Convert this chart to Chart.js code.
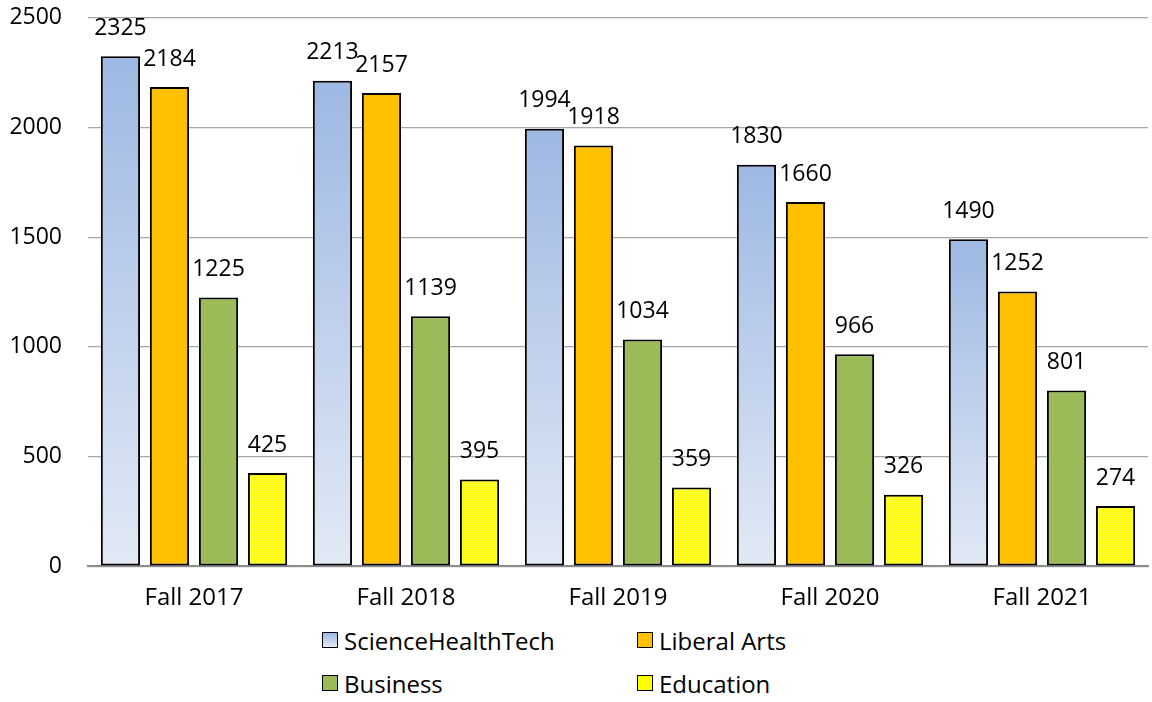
<!DOCTYPE html>
<html>
<head>
<meta charset="utf-8">
<script src="https://cdn.jsdelivr.net/npm/chart.js@4"></script>
<style>
  html, body { margin: 0; padding: 0; background: #fff; overflow: hidden; }
  #wrap { position: relative; width: 1152px; height: 702px; overflow: hidden; font-family: "Open Sans", sans-serif; }
  #box { position: absolute; left: 0; top: -22px; width: 1152px; height: 645px; }
  #legend { position: absolute; left: 322px; top: 626px; width: 600px; display: grid;
            grid-template-columns: 315px 285px; row-gap: 15px; font-size: 24px; color: #000; }
  .item { display: flex; align-items: center; height: 28px; }
  .sw { width: 14px; height: 14px; border: 1.5px solid #000; margin-right: 6px; }
</style>
</head>
<body>
<div id="wrap">
  <div id="box"><canvas id="chart"></canvas></div>
  <div id="legend"></div>
</div>
<script>
const terms = ['Fall 2017', 'Fall 2018', 'Fall 2019', 'Fall 2020', 'Fall 2021'];
const scienceHealthTech = [2325, 2213, 1994, 1830, 1490];
const liberalArts = [2184, 2157, 1918, 1660, 1252];
const business = [1225, 1139, 1034, 966, 801];
const education = [425, 395, 359, 326, 274];
const yTicks = [0, 500, 1000, 1500, 2000, 2500];

const FONT = '"Open Sans", sans-serif';

// Verlauf pro Balken, von oben (blau) nach unten (hell)
function blueGradient(context) {
    const chart = context.chart;
    const y = chart.scales.y;
    if (!chart.chartArea || !y) return '#b8cbeb';
    const v = context.raw || 0;
    const top = y.getPixelForValue(v);
    const bottom = y.getPixelForValue(0);
    const g = chart.ctx.createLinearGradient(0, top, 0, bottom);
    g.addColorStop(0, '#9db8e3');
    g.addColorStop(1, '#e2e9f5');
    return g;
}

// gelbes Punktmuster
function yellowPattern() {
    const c = document.createElement('canvas');
    c.width = 4; c.height = 4;
    const p = c.getContext('2d');
    p.fillStyle = '#ffff00';
    p.fillRect(0, 0, 4, 4);
    p.fillStyle = '#ffff70';
    p.fillRect(0, 0, 1, 1);
    p.fillRect(2, 2, 1, 1);
    return p.createPattern(c, 'repeat');
}

// Werte ueber den Balken
const valueLabels = {
    id: 'valueLabels',
    afterDatasetsDraw(chart) {
        const ctx = chart.ctx;
        ctx.save();
        ctx.font = '23px ' + FONT;
        ctx.fillStyle = '#000';
        ctx.textAlign = 'center';
        ctx.textBaseline = 'middle';
        chart.data.datasets.forEach((ds, i) => {
            chart.getDatasetMeta(i).data.forEach((bar, j) => {
                ctx.fillText(ds.data[j], bar.x, bar.y - 28);
            });
        });
        ctx.restore();
    }
};

const ctx = document.getElementById('chart').getContext('2d');
const chart = new Chart(ctx, {
    type: 'bar',
    data: {
        labels: terms,
        datasets: [
            { label: 'ScienceHealthTech', data: scienceHealthTech, backgroundColor: blueGradient },
            { label: 'Liberal Arts', data: liberalArts, backgroundColor: '#ffc000' },
            { label: 'Business', data: business, backgroundColor: '#9bbb59' },
            { label: 'Education', data: education, backgroundColor: yellowPattern() }
        ].map(d => Object.assign(d, {
            borderColor: '#000',
            borderWidth: 2,
            borderSkipped: false,
            categoryPercentage: 0.925,
            barPercentage: 0.8
        }))
    },
    options: {
        responsive: true,
        maintainAspectRatio: false,
        animation: false,
        layout: { padding: { top: 6, right: 4, left: 0, bottom: 0 } },
        plugins: {
            legend: { display: false },
            tooltip: { enabled: false }
        },
        scales: {
            x: {
                grid: { display: false },
                border: { color: '#8c8c8c', width: 2 },
                ticks: { color: '#000', font: { size: 24, family: FONT }, padding: 10 }
            },
            y: {
                min: 0,
                max: 2500,
                afterBuildTicks: scale => { scale.ticks = yTicks.map(v => ({ value: v })); },
                afterFit: scale => { scale.width = 88; },
                grid: { color: '#a6a6a6', lineWidth: 1.3, drawTicks: false },
                border: { display: false },
                ticks: {
                    color: '#000',
                    font: { size: 23, family: FONT },
                    padding: 26,
                    callback: v => String(v)
                }
            }
        }
    },
    plugins: [valueLabels]
});

// Legende in zwei Spalten
const legend = document.getElementById('legend');
const swatchColors = ['linear-gradient(#9db8e3, #e2e9f5)', '#ffc000', '#9bbb59', '#ffff00'];
chart.data.datasets.forEach((ds, i) => {
    const item = document.createElement('div');
    item.className = 'item';
    const sw = document.createElement('span');
    sw.className = 'sw';
    sw.style.background = swatchColors[i];
    const txt = document.createElement('span');
    txt.textContent = ds.label;
    item.appendChild(sw);
    item.appendChild(txt);
    legend.appendChild(item);
});
</script>
</body>
</html>
